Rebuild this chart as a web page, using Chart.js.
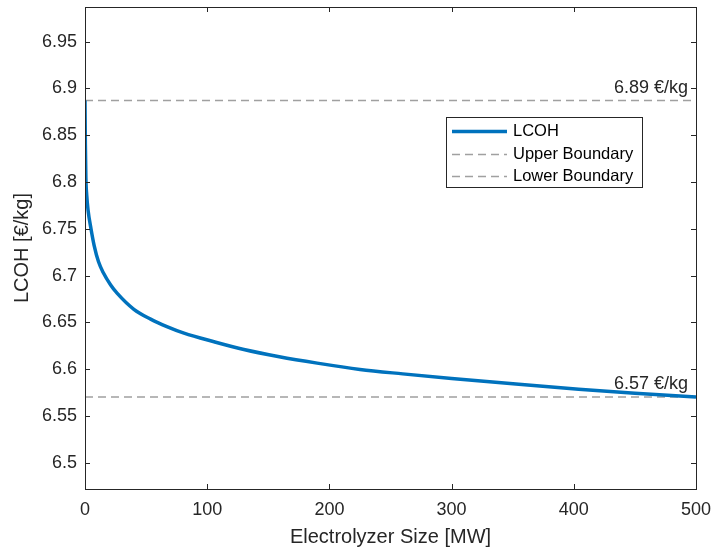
<!DOCTYPE html>
<html>
<head>
<meta charset="utf-8">
<script src="https://cdn.jsdelivr.net/npm/chart.js@4/dist/chart.umd.min.js"></script>
<style>
    body { margin: 0; background: #ffffff; }
    canvas { display: block; }
</style>
</head>
<body>
<canvas id="lcohChart" width="712" height="553"></canvas>
<script>
// Electrolyzer size (MW) and levelised cost of hydrogen (€/kg)
const sizes = [0, 0.3, 0.7, 1.4, 2.5, 4.9, 7.5, 11, 15, 21, 26.4, 40, 53.7, 67, 81, 105.6, 130, 159, 190, 225, 260, 300, 355, 404, 450, 500];
const lcoh = [6.887, 6.84, 6.805, 6.786, 6.77, 6.75, 6.732, 6.715, 6.703, 6.69, 6.681, 6.664, 6.6535, 6.6455, 6.6385, 6.6293, 6.621, 6.6133, 6.6065, 6.5998, 6.595, 6.590, 6.5838, 6.5787, 6.5743, 6.5703];

const upperBound = 6.887;
const lowerBound = 6.5703;

const xTicks = [0, 100, 200, 300, 400, 500];
const yTicks = [6.5, 6.55, 6.6, 6.65, 6.7, 6.75, 6.8, 6.85, 6.9, 6.95];

const FONT = "'Liberation Sans', Arial, sans-serif";
const AXIS_COLOR = '#262626';

// Box around the plot area with inward tick marks on all four sides
const boxAxes = {
    id: 'boxAxes',
    afterDraw(chart) {
        const { ctx, chartArea: a, scales } = chart;
        const len = 5;
        ctx.save();
        ctx.strokeStyle = AXIS_COLOR;
        ctx.lineWidth = 1;
        ctx.beginPath();
        xTicks.forEach(v => {
            const x = Math.round(scales.x.getPixelForValue(v)) + 0.5;
            ctx.moveTo(x, a.bottom); ctx.lineTo(x, a.bottom - len);
            ctx.moveTo(x, a.top); ctx.lineTo(x, a.top + len);
        });
        yTicks.forEach(v => {
            const y = Math.round(scales.y.getPixelForValue(v)) + 0.5;
            ctx.moveTo(a.left, y); ctx.lineTo(a.left + len, y);
            ctx.moveTo(a.right, y); ctx.lineTo(a.right - len, y);
        });
        ctx.stroke();
        ctx.strokeRect(Math.round(a.left) + 0.5, Math.round(a.top) + 0.5,
            Math.round(a.right - a.left), Math.round(a.bottom - a.top));
        ctx.restore();
    }
};

// Value labels sitting above the boundary lines
const boundLabels = {
    id: 'boundLabels',
    afterDatasetsDraw(chart) {
        const { ctx, chartArea: a, scales } = chart;
        ctx.save();
        ctx.font = '18px ' + FONT;
        ctx.fillStyle = AXIS_COLOR;
        ctx.textAlign = 'right';
        ctx.textBaseline = 'middle';
        [upperBound, lowerBound].forEach(v => {
            const y = scales.y.getPixelForValue(v);
            ctx.fillText(v.toFixed(2) + ' €/kg', a.right - 8, y - 13);
        });
        ctx.restore();
    }
};

// Framed legend in the upper right of the plot
const boxLegend = {
    id: 'boxLegend',
    afterDraw(chart) {
        const { ctx } = chart;
        const left = 446, top = 117, w = 196, h = 70;
        ctx.save();
        ctx.fillStyle = '#ffffff';
        ctx.fillRect(left, top, w, h);
        ctx.strokeStyle = AXIS_COLOR;
        ctx.lineWidth = 1;
        ctx.strokeRect(left + 0.5, top + 0.5, w, h);
        ctx.font = '16.5px ' + FONT;
        ctx.textBaseline = 'middle';
        chart.data.datasets.forEach((ds, i) => {
            const y = Math.round(top + 14 + i * 22.5) + 0.5;
            ctx.strokeStyle = ds.borderColor;
            ctx.lineWidth = ds.borderWidth;
            ctx.setLineDash(ds.borderDash || []);
            ctx.beginPath();
            ctx.moveTo(left + 6, y);
            ctx.lineTo(left + 61, y);
            ctx.stroke();
            ctx.setLineDash([]);
            ctx.fillStyle = '#000000';
            ctx.fillText(ds.label, left + 67, y);
        });
        ctx.restore();
    }
};

const ctx = document.getElementById('lcohChart').getContext('2d');
new Chart(ctx, {
    type: 'line',
    data: {
        datasets: [{
            label: 'LCOH',
            data: sizes.map((s, i) => ({ x: s, y: lcoh[i] })),
            borderColor: '#0072BD',
            borderWidth: 3.5,
            pointRadius: 0,
            cubicInterpolationMode: 'monotone'
        }, {
            label: 'Upper Boundary',
            data: [{ x: 0, y: upperBound }, { x: 500, y: upperBound }],
            borderColor: '#a0a0a0',
            borderWidth: 1.5,
            borderDash: [8, 5],
            pointRadius: 0
        }, {
            label: 'Lower Boundary',
            data: [{ x: 0, y: lowerBound }, { x: 500, y: lowerBound }],
            borderColor: '#a0a0a0',
            borderWidth: 1.5,
            borderDash: [8, 5],
            pointRadius: 0
        }]
    },
    options: {
        responsive: false,
        animation: false,
        layout: { padding: { top: 7, right: 16, bottom: 0, left: 0 } },
        plugins: {
            legend: { display: false },
            tooltip: { enabled: false }
        },
        scales: {
            x: {
                type: 'linear',
                min: 0,
                max: 500,
                grid: { display: false, drawTicks: false },
                border: { display: false },
                afterBuildTicks: scale => { scale.ticks = xTicks.map(v => ({ value: v })); },
                afterFit: scale => {
                    scale.height = 64;
                    scale.paddingLeft = 0;
                    scale.paddingRight = 0;
                },
                ticks: {
                    padding: 10,
                    color: AXIS_COLOR,
                    font: { family: FONT, size: 18 },
                    maxRotation: 0,
                    callback: v => String(v)
                },
                title: {
                    display: true,
                    text: 'Electrolyzer Size [MW]',
                    color: AXIS_COLOR,
                    font: { family: FONT, size: 20 },
                    padding: { top: 0, bottom: 4 }
                }
            },
            y: {
                min: 6.472,
                max: 6.987,
                grid: { display: false, drawTicks: false },
                border: { display: false },
                afterBuildTicks: scale => { scale.ticks = yTicks.map(v => ({ value: v })); },
                afterFit: scale => {
                    scale.width = 85;
                    scale.paddingTop = 0;
                    scale.paddingBottom = 0;
                },
                ticks: {
                    padding: 8,
                    color: AXIS_COLOR,
                    font: { family: FONT, size: 18 },
                    callback: v => String(Number(v.toFixed(2)))
                },
                title: {
                    display: true,
                    text: 'LCOH [€/kg]',
                    color: AXIS_COLOR,
                    font: { family: FONT, size: 20 },
                    padding: { top: 10, bottom: 0 }
                }
            }
        }
    },
    plugins: [boxAxes, boundLabels, boxLegend]
});
</script>
</body>
</html>
